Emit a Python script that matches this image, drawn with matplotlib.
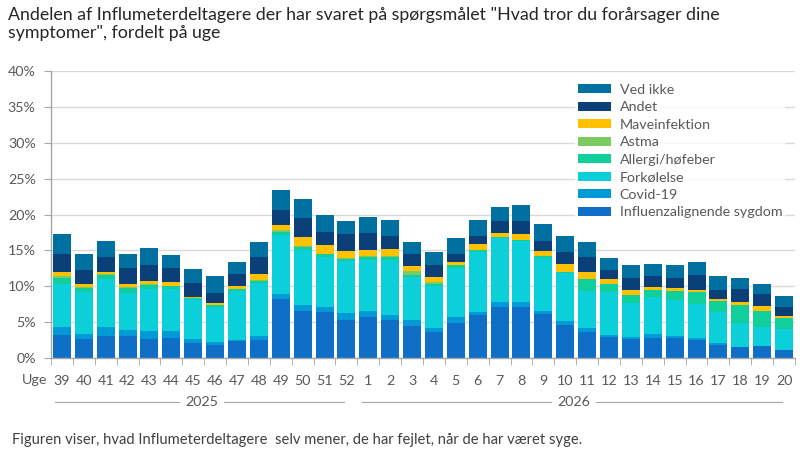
import matplotlib
matplotlib.use('Agg')
import matplotlib.pyplot as plt
import matplotlib.transforms as mtransforms
import numpy as np

plt.rcParams['font.family'] = ['Lato', 'DejaVu Sans']

weeks = ['39', '40', '41', '42', '43', '44', '45', '46', '47', '48', '49', '50', '51', '52',
         '1', '2', '3', '4', '5', '6', '7', '8', '9', '10', '11', '12', '13', '14', '15', '16',
         '17', '18', '19', '20']
years = ['2025', '2026']
year_counts = [14, 20]

influenza = [3.24, 2.69, 3.10, 3.10, 2.69, 2.82, 2.13, 1.85, 2.41, 2.55, 8.24, 6.57, 6.44, 5.32,
             5.74, 5.32, 4.49, 3.66, 4.91, 6.02, 7.13, 7.13, 6.11, 4.58, 3.61, 2.92, 2.64, 2.78,
             2.78, 2.50, 1.81, 1.53, 1.67, 1.11]
covid = [1.10, 0.69, 1.25, 0.84, 1.11, 0.98, 0.56, 0.42, 0.14, 0.55, 0.70, 0.84, 0.69, 0.98,
         0.83, 0.70, 0.83, 0.55, 0.83, 0.42, 0.69, 0.69, 0.42, 0.56, 0.56, 0.27, 0.28, 0.55,
         0.28, 0.28, 0.27, 0.05, 0.05, 0.05]
forkoelelse = [5.97, 5.83, 6.67, 5.13, 5.83, 5.83, 5.55, 4.86, 6.85, 7.36, 8.19, 7.64, 6.94, 7.22,
               7.09, 7.64, 5.98, 5.84, 6.81, 8.33, 8.89, 8.48, 7.36, 6.67, 5.14, 5.98, 4.72, 5.14,
               5.00, 4.72, 4.31, 3.28, 2.59, 2.92]
allergi = [0.84, 0.55, 0.50, 0.70, 0.60, 0.35, 0.10, 0.20, 0.20, 0.28, 0.42, 0.41, 0.42, 0.28,
           0.41, 0.41, 0.27, 0.27, 0.41, 0.28, 0.14, 0.14, 0.28, 0.13, 1.66, 1.11, 1.11, 0.97,
           1.25, 1.67, 1.53, 2.50, 2.22, 1.53]
astma = [0.28, 0.15, 0.23, 0.14, 0.09, 0.07, 0.04, 0.08, 0.03, 0.14, 0.27, 0.14, 0.05, 0.14,
         0.14, 0.14, 0.56, 0.28, 0.05, 0.03, 0.02, 0.02, 0.02, 0.02, 0.03, 0.02, 0.02, 0.03,
         0.02, 0.03, 0.02, 0.03, 0.03, 0.02]
mave = [0.56, 0.42, 0.23, 0.41, 0.42, 0.55, 0.14, 0.28, 0.42, 0.83, 0.70, 1.25, 1.25, 0.97,
        0.84, 0.98, 0.69, 0.70, 0.42, 0.83, 0.56, 0.83, 0.69, 1.12, 0.97, 0.69, 0.69, 0.42,
        0.41, 0.27, 0.27, 0.42, 0.69, 0.27]
andet = [2.50, 1.95, 2.08, 2.23, 2.22, 1.95, 1.95, 1.38, 1.66, 2.36, 2.08, 2.64, 1.81, 2.36,
         2.36, 1.80, 1.67, 1.66, 1.11, 1.11, 1.66, 1.80, 1.39, 1.66, 2.08, 1.25, 1.67, 1.53,
         1.39, 2.09, 1.25, 1.80, 1.67, 1.25]
ved_ikke = [2.77, 2.22, 2.23, 1.94, 2.36, 1.80, 1.95, 2.37, 1.67, 2.09, 2.78, 2.64, 2.36, 1.80,
            2.22, 2.22, 1.67, 1.81, 2.22, 2.22, 1.95, 2.23, 2.36, 2.22, 2.08, 1.67, 1.81, 1.67,
            1.81, 1.80, 1.95, 1.53, 1.39, 1.53]

series = [
    ('Influenzalignende sygdom', influenza, '#0F6FC6'),
    ('Covid-19', covid, '#009BD6'),
    ('Forkølelse', forkoelelse, '#0BD0D9'),
    ('Allergi/høfeber', allergi, '#10CF9B'),
    ('Astma', astma, '#7CCA62'),
    ('Maveinfektion', mave, '#FFC000'),
    ('Andet', andet, '#0B3F77'),
    ('Ved ikke', ved_ikke, '#0070A0'),
]

grey = '#595959'
fig = plt.figure(figsize=(8, 4.54), dpi=100)
ax = fig.add_axes([51 / 800, 96 / 454, 744 / 800, 287 / 454])

x = np.arange(len(weeks))
bottom = np.zeros(len(weeks))
handles = []
for name, vals, color in series:
    b = ax.bar(x, vals, width=0.82, bottom=bottom, color=color, label=name, zorder=2)
    handles.append(b)
    bottom += np.array(vals)

ax.set_xlim(-0.5, len(weeks) - 0.5)
ax.set_ylim(0, 40)
ax.set_yticks(np.arange(0, 41, 5))
ax.set_yticklabels([f'{v}%' for v in range(0, 41, 5)])
ax.yaxis.grid(True, color='#D9D9D9', linewidth=1, zorder=0)
ax.set_axisbelow(True)

for side in ['top', 'right']:
    ax.spines[side].set_visible(False)
for side in ['left', 'bottom']:
    ax.spines[side].set_color('#A6A6A6')
    ax.spines[side].set_linewidth(1)

ax.set_xticks(x)
ax.set_xticklabels(weeks)
ax.set_xticks(np.arange(-0.5, len(weeks), 1), minor=True)
ax.tick_params(axis='x', which='major', length=0, pad=12, labelsize=10.3, labelcolor=grey)
ax.tick_params(axis='x', which='minor', length=5, color='#A6A6A6')
ax.tick_params(axis='y', length=5, color='#A6A6A6', labelsize=10.3, labelcolor=grey, pad=6)

fig.text(22 / 800, 1 - 380 / 454, 'Uge', fontsize=10.3, color=grey, va='center', ha='left')

# year groups below the week labels
trans = mtransforms.blended_transform_factory(ax.transData, ax.transAxes)
start = -0.5
for yr, n in zip(years, year_counts):
    end = start + n
    ax.plot([start + 0.2, end - 0.6], [-0.155, -0.155], transform=trans, color='#A6A6A6',
            linewidth=0.8, clip_on=False)
    ax.text((start + end) / 2 - 0.1, -0.155, yr, transform=trans, ha='center', va='center',
            fontsize=10.3, color=grey,
            bbox=dict(facecolor='white', edgecolor='none', pad=4))
    start = end

leg = ax.legend(handles[::-1], [s[0] for s in series][::-1], loc='upper left',
                bbox_to_anchor=(0.695, 0.99), frameon=True, fontsize=10.3,
                handlelength=2.3, handleheight=0.6, labelspacing=0.385, borderpad=0.2,
                handletextpad=0.6)
leg.get_frame().set_facecolor('white')
leg.get_frame().set_edgecolor('none')
for t in leg.get_texts():
    t.set_color(grey)

fig.text(8 / 800, 1 - 7 / 454,
         'Andelen af Influmeterdeltagere der har svaret på spørgsmålet "Hvad tror du forårsager dine\nsymptomer", fordelt på uge',
         fontsize=12.8, color='#262626', va='top', ha='left', linespacing=1.15)
fig.text(12 / 800, 1 - 440 / 454,
         'Figuren viser, hvad Influmeterdeltagere  selv mener, de har fejlet, når de har været syge.',
         fontsize=10.6, color='#404040', va='center', ha='left')

fig.savefig('out.png', dpi=100)
